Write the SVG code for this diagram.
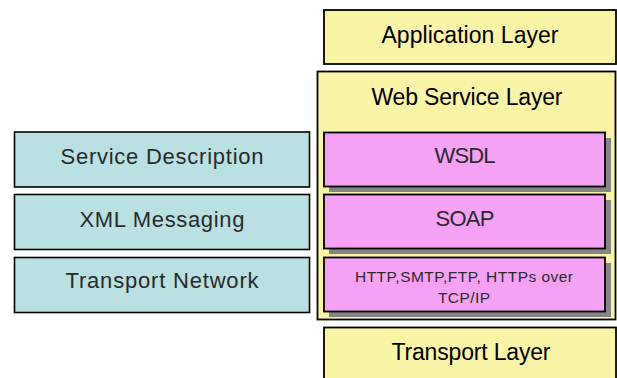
<svg xmlns="http://www.w3.org/2000/svg" width="617" height="378" viewBox="0 0 617 378">
  <style>
    .teal { fill: #b9e0e2; stroke: #000; stroke-width: 1.6; }
    .yel { fill: #faf5a6; stroke: #000; stroke-width: 1.8; }
    .pink { fill: #f5a2f5; stroke: #000; stroke-width: 1.8; }
    .shadow { fill: #858585; }
    .lbl { font-family: "Liberation Sans", Arial, sans-serif; font-size: 22px; fill: #2a2a2a; text-anchor: middle; }
    .big { font-family: "Liberation Sans", Arial, sans-serif; font-size: 23px; fill: #000; text-anchor: middle; }
    .small { font-family: "Liberation Sans", Arial, sans-serif; font-size: 15.5px; fill: #2a2a2a; text-anchor: middle; }
  </style>
  <rect width="617" height="378" fill="#fff"/>

  <!-- left column -->
  <g id="service-description">
    <rect class="teal" x="14.5" y="132" width="295" height="55"/>
    <text class="lbl" x="162" y="164" textLength="203" lengthAdjust="spacing">Service Description</text>
  </g>
  <g id="xml-messaging">
    <rect class="teal" x="14.5" y="194.5" width="295" height="55"/>
    <text class="lbl" x="162" y="227" textLength="165" lengthAdjust="spacing">XML Messaging</text>
  </g>
  <g id="transport-network">
    <rect class="teal" x="14.5" y="257.5" width="295" height="55"/>
    <text class="lbl" x="162" y="288" textLength="193" lengthAdjust="spacing">Transport Network</text>
  </g>

  <!-- right column -->
  <g id="application-layer">
    <rect class="yel" x="324" y="10" width="292" height="54"/>
    <text class="big" x="470" y="43" textLength="177" lengthAdjust="spacing">Application Layer</text>
  </g>
  <g id="web-service-layer">
    <rect class="yel" x="317.5" y="71.5" width="298" height="248"/>
    <text class="big" x="467" y="105" textLength="191" lengthAdjust="spacing">Web Service Layer</text>
  </g>
  <g id="wsdl">
    <rect class="shadow" x="329" y="138" width="282" height="54"/>
    <rect class="pink" x="324" y="132.5" width="281" height="54"/>
    <text class="lbl" x="465" y="163" textLength="61" lengthAdjust="spacing">WSDL</text>
  </g>
  <g id="soap">
    <rect class="shadow" x="329" y="200" width="282" height="54"/>
    <rect class="pink" x="324" y="194.5" width="281" height="54"/>
    <text class="lbl" x="465" y="226" textLength="59" lengthAdjust="spacing">SOAP</text>
  </g>
  <g id="http">
    <rect class="shadow" x="329" y="263" width="282" height="54"/>
    <rect class="pink" x="324" y="257.5" width="281" height="54"/>
    <text class="small" x="464" y="282" textLength="218" lengthAdjust="spacing">HTTP,SMTP,FTP, HTTPs over</text>
    <text class="small" x="464" y="303" textLength="52" lengthAdjust="spacing">TCP/IP</text>
  </g>
  <g id="transport-layer">
    <rect class="yel" x="324" y="327.5" width="292" height="60"/>
    <text class="big" x="471" y="360" textLength="159" lengthAdjust="spacing">Transport Layer</text>
  </g>

  <g id="connectors"></g>
</svg>
